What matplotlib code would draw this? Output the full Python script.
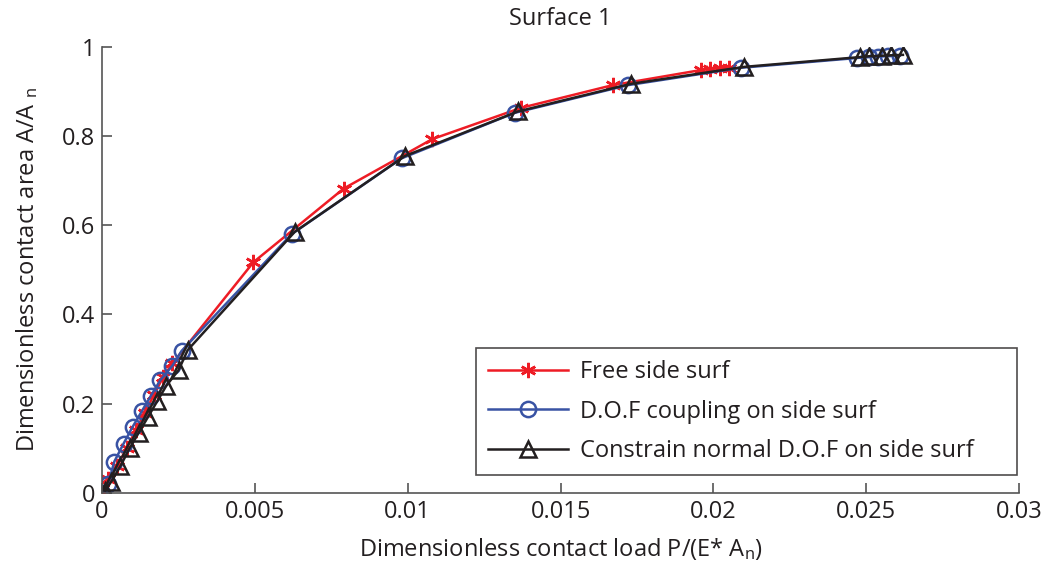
import numpy as np
import matplotlib
matplotlib.use('Agg')
import matplotlib.pyplot as plt

plt.rcParams['font.family'] = ['Open Sans', 'DejaVu Sans']
plt.rcParams['mathtext.fontset'] = 'custom'
plt.rcParams['mathtext.rm'] = 'Open Sans'
plt.rcParams['mathtext.it'] = 'Open Sans'

# free side surface
free_x = [0, 0.0002, 0.0005, 0.0008, 0.0011, 0.0014, 0.0017, 0.002, 0.0023,
          0.00495, 0.0079, 0.0108, 0.0137, 0.0167, 0.0196, 0.0199, 0.0202, 0.0205]
free_y = [0, 0.03, 0.06, 0.1, 0.14, 0.18, 0.22, 0.26, 0.29,
          0.517, 0.682, 0.793, 0.863, 0.914, 0.948, 0.95, 0.952, 0.953]

# D.O.F coupling
coup_x = [0, 0.0002, 0.0004, 0.0007, 0.001, 0.0013, 0.0016, 0.0019, 0.0023, 0.0026,
          0.0062, 0.0098, 0.0135, 0.0172, 0.0209, 0.0247, 0.0251, 0.0254, 0.0257, 0.0261]
coup_y = [0, 0.02, 0.07, 0.11, 0.148, 0.183, 0.218, 0.252, 0.285, 0.318,
          0.58, 0.75, 0.852, 0.914, 0.953, 0.975, 0.977, 0.978, 0.979, 0.98]

# constrain normal D.O.F
cons_x = [0.0001, 0.0003, 0.0006, 0.0009, 0.0012, 0.0015, 0.0018, 0.0021, 0.0025, 0.0028,
          0.0063, 0.0099, 0.0136, 0.0173, 0.021, 0.0248, 0.0251, 0.0255, 0.0258, 0.0262]
cons_y = [0.005, 0.025, 0.06, 0.1, 0.135, 0.17, 0.205, 0.24, 0.275, 0.32,
          0.585, 0.755, 0.855, 0.917, 0.955, 0.977, 0.979, 0.98, 0.981, 0.982]

FS = 17

fig = plt.figure(figsize=(10.42, 5.71), dpi=100)
ax = fig.add_axes([0.098, 0.137, 0.88, 0.781])

ax.plot(free_x, free_y, color='#ee1c25', lw=1.8, marker=(6, 2, 0), ms=11, mew=1.8,
        label='Free side surf')
ax.plot(coup_x, coup_y, color='#3953a4', lw=1.8, marker='o', ms=11, mew=1.8,
        mfc='none', label='D.O.F coupling on side surf')
ax.plot(cons_x, cons_y, color='#231f20', lw=1.8, marker='^', ms=11, mew=1.8,
        mfc='none', label='Constrain normal D.O.F on side surf')

ax.set_xlim(0, 0.03)
ax.set_ylim(0, 1)
ax.set_xticks([0, 0.005, 0.01, 0.015, 0.02, 0.025, 0.03])
ax.set_xticklabels(['0', '0.005', '0.01', '0.015', '0.02', '0.025', '0.03'])
ax.set_yticks([0, 0.2, 0.4, 0.6, 0.8, 1])
ax.set_yticklabels(['0', '0.2', '0.4', '0.6', '0.8', '1'])

for s in ['top', 'right']:
    ax.spines[s].set_visible(False)
for s in ['left', 'bottom']:
    ax.spines[s].set_color('#555555')
    ax.spines[s].set_linewidth(1.2)
ax.tick_params(direction='in', length=7, width=1.2, color='#555555',
               labelsize=FS, labelcolor='#231f20', pad=5)

ax.set_title('Surface 1', fontsize=FS, color='#231f20', pad=16)
ax.set_xlabel(r'Dimensionless contact load P/(E* A$_{\mathregular{n}}$)', fontsize=FS,
              color='#231f20', labelpad=9)
ax.set_ylabel(r'Dimensionless contact area A/A $_{\mathregular{n}}$', fontsize=FS,
              color='#231f20', labelpad=16)

leg = ax.legend(loc='lower left', bbox_to_anchor=(0.408, 0.04, 0.59, 0.3),
                mode='expand', fontsize=FS,
                frameon=True, fancybox=False, handlelength=3.4, borderpad=0.5,
                labelspacing=0.66, handletextpad=0.5, borderaxespad=0)
leg.get_frame().set_edgecolor('#231f20')
leg.get_frame().set_linewidth(1.2)
for t in leg.get_texts():
    t.set_color('#231f20')

fig.savefig('out.png', dpi=100)
